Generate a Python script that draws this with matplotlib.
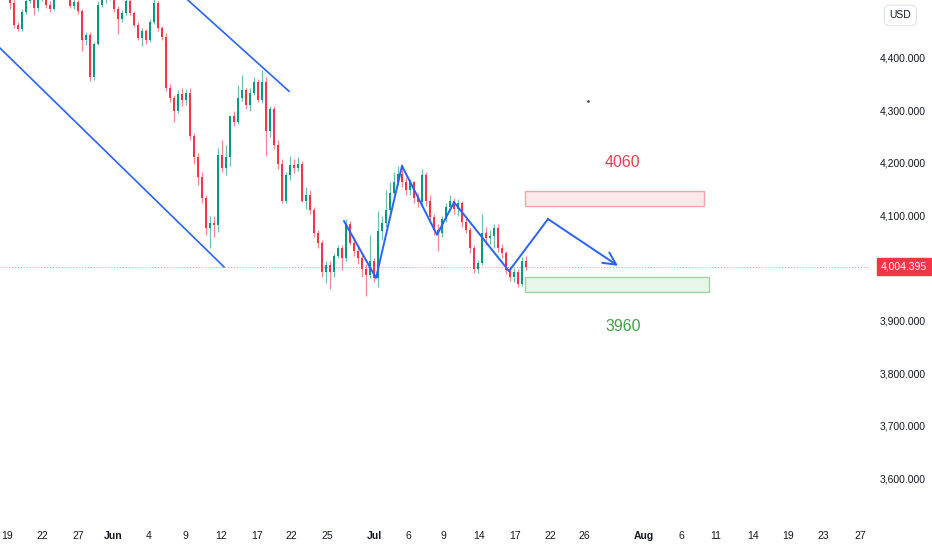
import matplotlib
matplotlib.use("Agg")
import matplotlib.pyplot as plt
from matplotlib.patches import Rectangle

# candle data (one bar every ~4 px in the screenshot)
opens = [4530, 4540, 4525, 4505, 4463, 4456, 4488, 4510, 4525, 4497, 4515, 4530, 4502, 4495, 4520, 4535, 4530, 4525,
         4500, 4508, 4490, 4435, 4445, 4365, 4428, 4502, 4515, 4518, 4525, 4495, 4475, 4487, 4510, 4486, 4464, 4440,
         4452, 4436, 4470, 4505, 4458, 4442, 4345, 4325, 4300, 4332, 4322, 4335, 4252, 4213, 4175, 4135, 4078, 4088,
         4084, 4217, 4192, 4212, 4290, 4280, 4325, 4340, 4312, 4335, 4355, 4322, 4355, 4262, 4305, 4235, 4200, 4130,
         4178, 4198, 4192, 4200, 4130, 4140, 4112, 4068, 4050, 3995, 4008, 3995, 4025, 4040, 4020, 4085, 4050, 4035,
         4020, 4000, 3988, 4015, 3982, 4072, 4088, 4112, 4145, 4165, 4180, 4165, 4150, 4165, 4135, 4128, 4178, 4130,
         4098, 4075, 4068, 4095, 4118, 4130, 4115, 4125, 4090, 4075, 4040, 4000, 4012, 4068, 4058, 4062, 4078, 4040,
         4030, 3998, 3985, 3995, 3972, 4015]
highs = [4550, 4548, 4530, 4515, 4470, 4494, 4520, 4535, 4530, 4525, 4540, 4535, 4510, 4528, 4545, 4545, 4538, 4530,
         4515, 4512, 4495, 4450, 4450, 4432, 4510, 4525, 4530, 4535, 4530, 4500, 4493, 4520, 4515, 4490, 4470, 4458,
         4456, 4475, 4515, 4510, 4462, 4448, 4352, 4330, 4340, 4345, 4342, 4345, 4258, 4220, 4185, 4140, 4100, 4100,
         4230, 4245, 4235, 4238, 4300, 4350, 4369, 4345, 4345, 4365, 4362, 4378, 4365, 4310, 4310, 4245, 4210, 4185,
         4215, 4210, 4212, 4205, 4155, 4150, 4118, 4075, 4055, 4015, 4015, 4030, 4045, 4045, 4095, 4092, 4060, 4045,
         4030, 4010, 4065, 4020, 4110, 4100, 4150, 4165, 4185, 4195, 4200, 4175, 4172, 4168, 4145, 4190, 4185, 4140,
         4105, 4085, 4100, 4125, 4140, 4135, 4133, 4130, 4100, 4080, 4045, 4018, 4105, 4080, 4075, 4085, 4085, 4048,
         4035, 4005, 4002, 4000, 4022, 4025]
lows = [4520, 4515, 4495, 4458, 4452, 4452, 4484, 4505, 4482, 4490, 4510, 4496, 4488, 4492, 4515, 4520, 4518, 4496,
        4495, 4485, 4415, 4425, 4358, 4360, 4425, 4498, 4505, 4512, 4488, 4446, 4470, 4483, 4482, 4460, 4436, 4424,
        4428, 4432, 4466, 4452, 4435, 4338, 4318, 4280, 4296, 4310, 4312, 4245, 4200, 4160, 4125, 4065, 4040, 4060,
        4070, 4185, 4178, 4195, 4272, 4276, 4320, 4305, 4300, 4330, 4318, 4315, 4215, 4250, 4228, 4190, 4125, 4125,
        4170, 4182, 4186, 4128, 4115, 4105, 4060, 4040, 3985, 3973, 3962, 3985, 4020, 3998, 4015, 4045, 4025, 4010,
        3985, 3948, 3982, 3975, 3966, 4055, 4080, 4105, 4140, 4160, 4155, 4140, 4140, 4125, 4118, 4120, 4120, 4090,
        4065, 4035, 4060, 4090, 4110, 4105, 4100, 4080, 4068, 4030, 3992, 3993, 4008, 4045, 4048, 4040, 4032, 4020,
        3990, 3978, 3975, 3965, 3968, 3998]
closes = opens[1:] + [4004.395]
last_price = 4004.395

# drawings
channel_low = [(-0.5, 4420), (55.5, 4004)]
channel_high = [(46.5, 4511), (71.75, 4338)]
zigzag = [(85.5, 4091), (93.5, 3983), (100, 4196), (108.75, 4065), (113, 4127), (126.75, 3996), (136.5, 4095)]
arrow_end = (154, 4006)
resist_box = (130.75, 175.5, 4120, 4148)
support_box = (130.75, 176.75, 3956, 3985)
resist_label = "4060"
support_label = "3960"

# axes labels
price_ticks = [3600, 3700, 3800, 3900, 4000, 4100, 4200, 4300, 4400]
date_pos = [1.25, 10, 19, 27.75, 36.75, 45.75, 54.75, 63.75, 72.25, 81.25, 93, 101.5, 110.25, 119.25,
            128.25, 137, 145.5, 160.5, 169.75, 178.5, 187.75, 196.5, 205.25, 214.5]
date_labels = ["19", "22", "27", "Jun", "4", "9", "12", "17", "22", "25", "Jul", "6", "9", "14",
               "17", "22", "26", "Aug", "6", "11", "14", "19", "23", "27"]

UP = "#089981"
DOWN = "#f23645"
BLUE = "#2962ff"
TXT = "#131722"
FONT = ["Liberation Sans", "DejaVu Sans"]

fig = plt.figure(figsize=(9.32, 5.5), dpi=100)
ax = fig.add_axes([0, 30 / 550, 870 / 932, 520 / 550])
ax.set_xlim(-0.5, 217)
ax.set_ylim(3522.8, 4511.4)
for s in ax.spines.values():
    s.set_visible(False)
ax.set_xticks([])
ax.set_yticks([])

# candles
for i, (o, h, l, c) in enumerate(zip(opens, highs, lows, closes)):
    col = UP if c >= o else DOWN
    ax.vlines(i, l, h, color=col, lw=0.9, alpha=0.6, zorder=2)
    ax.bar(i, max(abs(c - o), 1.5), bottom=min(o, c), width=0.72, color=col, lw=0, zorder=3)

# current price line
ax.axhline(last_price, color=DOWN, lw=0.7, ls=(0, (1, 2)), alpha=0.6, zorder=1)

# channel lines
for seg in (channel_low, channel_high):
    ax.plot([p[0] for p in seg], [p[1] for p in seg], color=BLUE, lw=1.2, zorder=4)

# zigzag + projected arrow
ax.plot([p[0] for p in zigzag], [p[1] for p in zigzag], color=BLUE, lw=1.4, zorder=4)
ax.annotate("", xy=arrow_end, xytext=zigzag[-1],
            arrowprops=dict(arrowstyle="->,head_length=0.9,head_width=0.45", color=BLUE, lw=1.4,
                            shrinkA=0, shrinkB=0), zorder=4)

# zones
x0, x1, y0, y1 = resist_box
ax.add_patch(Rectangle((x0, y0), x1 - x0, y1 - y0, facecolor="#fde8ea", edgecolor="#f4a3ab", lw=1, zorder=2))
x0, x1, y0, y1 = support_box
ax.add_patch(Rectangle((x0, y0), x1 - x0, y1 - y0, facecolor="#e8f5e9", edgecolor="#9fd3a3", lw=1, zorder=2))
ax.text(155, 4203, resist_label, color="#e5404f", fontsize=11.5, ha="center", va="center", family=FONT)
ax.text(155.25, 3890, support_label, color="#43a047", fontsize=11.5, ha="center", va="center", family=FONT)
ax.plot([146.5], [4319], marker="o", ms=1, color="#555555")

# price scale (right)
for p in price_ticks:
    if p == 4000:
        continue
    ax.text(1.064, (p - 3522.8) / (4511.4 - 3522.8), f"{p:,.3f}", transform=ax.transAxes,
            ha="right", va="center", fontsize=7.5, color=TXT, family=FONT)
ax.text(1.0655, (last_price - 3522.8) / (4511.4 - 3522.8), f"{last_price:,.3f}", transform=ax.transAxes,
        ha="right", va="center", fontsize=7.5, color="white", family=FONT,
        bbox=dict(boxstyle="square,pad=0.35", fc=DOWN, ec=DOWN))
fig.text(0.966, 0.972, "USD", ha="center", va="center", fontsize=7.5, color=TXT, family=FONT,
         bbox=dict(boxstyle="round,pad=0.5", fc="white", ec="#e0e3eb", lw=0.8))

# time scale (bottom)
for pos, lab in zip(date_pos, date_labels):
    ax.text(pos, -0.03, lab, transform=ax.get_xaxis_transform(), ha="center", va="center",
            fontsize=7.5, color=TXT, family=FONT,
            fontweight="bold" if lab in ("Jun", "Jul", "Aug") else "normal")

fig.savefig("out.png", dpi=100)
